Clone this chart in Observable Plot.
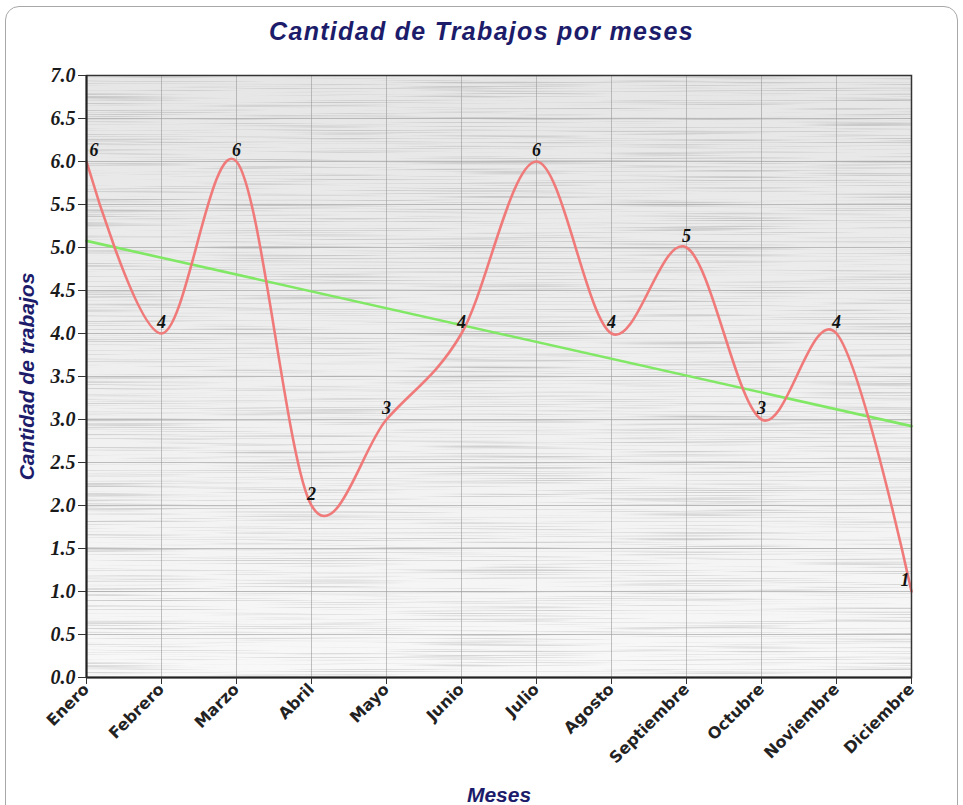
<!DOCTYPE html>
<html><head><meta charset="utf-8">
<script src="https://cdn.jsdelivr.net/npm/d3@7"></script>
<script src="https://cdn.jsdelivr.net/npm/@observablehq/plot@0.6"></script>
<style>
body{margin:0;background:#fff;overflow:hidden;}
#box{position:absolute;left:5px;top:6px;width:951px;height:812px;border:1.5px solid #a8a8a8;border-radius:14px;}
#title{position:absolute;left:0;top:17px;width:963px;text-align:center;font:italic bold 25px "Liberation Sans",sans-serif;letter-spacing:1.3px;color:#1c1c6b;}
#chart{position:absolute;left:0;top:50px;}
</style></head><body>
<div id="box"></div>
<div id="title">Cantidad de Trabajos por meses</div>
<div id="chart"></div>
<script>
const months = ["Enero","Febrero","Marzo","Abril","Mayo","Junio","Julio","Agosto","Septiembre","Octubre","Noviembre","Diciembre"];
const trabajos = [6,4,6,2,3,4,6,4,5,3,4,1];
const yTicks = [0,0.5,1,1.5,2,2.5,3,3.5,4,4.5,5,5.5,6,6.5,7];
const xLabel = "Meses";
const yLabel = "Cantidad de trabajos";

const data = months.map((m,i)=>({i, mes:m, n:trabajos[i]}));
const xTicks = months.map((m,i)=>i);
const last = months.length-1;
const serif = '"Liberation Serif", serif';
const lblStyle = {fontFamily:serif, fontWeight:"bold", fontStyle:"italic", fontSize:18, fill:"#111"};
const navyStyle = {fontSize:20, fontWeight:"bold", fontStyle:"italic", fontFamily:'"Liberation Sans", sans-serif', fill:"#1c1c6b", textAnchor:"middle", lineAnchor:"middle"};

const chart = Plot.plot({
  width:963, height:755,
  marginLeft:86, marginRight:52, marginTop:25, marginBottom:128,
  x:{domain:[0,last]},
  y:{domain:[0,7]},
  marks:[
    Plot.frame({fill:"url(#bgGrad)", stroke:null}),
    Plot.gridX(xTicks,{stroke:"#9a9a9a", strokeOpacity:0.6}),
    Plot.gridY(yTicks,{stroke:"#9a9a9a", strokeOpacity:0.6}),
    Plot.linearRegressionY(data,{x:"i", y:"n", ci:0, stroke:"#80e864", strokeWidth:2.6}),
    Plot.line(data,{x:"i", y:"n", curve:"cardinal", tension:0, stroke:"#f07a7a", strokeWidth:2.6}),
    Plot.text(data,{filter:d=>d.i===0, x:"i", y:"n", text:d=>String(d.n), textAnchor:"start", dx:3, dy:-11, ...lblStyle}),
    Plot.text(data,{filter:d=>d.i>0 && d.i<last, x:"i", y:"n", text:d=>String(d.n), dy:-11, ...lblStyle}),
    Plot.text(data,{filter:d=>d.i===last, x:"i", y:"n", text:d=>String(d.n), textAnchor:"end", dx:-2, dy:-11, ...lblStyle}),
    Plot.frame({stroke:"#333", strokeWidth:1.5}),
    Plot.ruleY([0],{stroke:"#222", strokeWidth:2}),
    Plot.ruleX([0],{stroke:"#222", strokeWidth:2}),
    Plot.axisY(yTicks,{tickFormat:d=>d.toFixed(1), tickSize:8, tickPadding:3, stroke:"#333", fontSize:20, fontFamily:serif, fontWeight:"bold", fontStyle:"italic", fill:"#1a1a1a", label:null}),
    Plot.axisX(xTicks,{tickFormat:i=>months[i], tickSize:7, tickPadding:2, tickRotate:-45, stroke:"#333", fontSize:16, fontFamily:'"DejaVu Sans", sans-serif', fontWeight:"bold", fill:"#222", label:null}),
    Plot.text([yLabel],{frameAnchor:"left", dx:-59, rotate:-90, ...navyStyle, fontSize:21}),
    Plot.text([xLabel],{frameAnchor:"bottom", dy:118, ...navyStyle, fontSize:21})
  ]
});

const ns = "http://www.w3.org/2000/svg";
const defs = document.createElementNS(ns,"defs");
defs.innerHTML = `<linearGradient id="bgGrad" x1="0" y1="0" x2="0" y2="1"><stop offset="0" stop-color="#e6e6e6"/><stop offset="1" stop-color="#f8f8f8"/></linearGradient>
<filter id="brushed" x="0" y="0" width="1" height="1" filterUnits="objectBoundingBox" color-interpolation-filters="sRGB">
<feTurbulence type="fractalNoise" baseFrequency="0.005 0.9" numOctaves="2" seed="4" result="noise"/>
<feColorMatrix in="noise" type="matrix" values="0.5 0 0 0 0.75  0.5 0 0 0 0.75  0.5 0 0 0 0.75  0 0 0 0 1" result="gray"/>
<feBlend in="gray" in2="SourceGraphic" mode="multiply"/>
</filter>`;
chart.insertBefore(defs, chart.firstChild);
const f = chart.querySelector('[aria-label="frame"]');
const r = f.tagName.toLowerCase()==="rect" ? f : f.querySelector("rect");
r.setAttribute("filter","url(#brushed)");
document.getElementById("chart").appendChild(chart);
</script>
</body></html>
